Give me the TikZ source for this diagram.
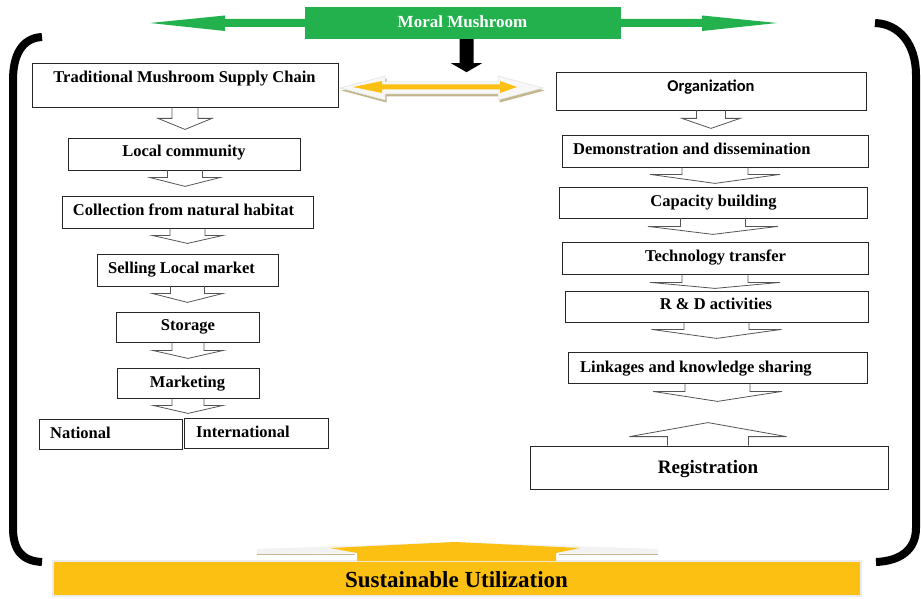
\documentclass[tikz,border=0pt]{standalone}
\usepackage{fontspec}
\setmainfont{Liberation Serif}
\newfontfamily\calib{Carlito}
\usetikzlibrary{calc}
\definecolor{mgreen}{RGB}{34,177,76}
\definecolor{myell}{RGB}{252,192,18}
\definecolor{mtan}{RGB}{196,182,140}
\definecolor{agray}{RGB}{85,85,85}
\tikzset{
  box/.style={draw=black!85, line width=0.8pt, inner sep=0pt},
  txt/.style={font=\fontsize{16.5}{18}\selectfont\bfseries, inner sep=0pt, anchor=base},
  txtl/.style={txt, anchor=base west},
  blk/.style={draw=agray, line width=0.8pt, line join=miter},
  bracket/.style={line width=8pt, black},
}
% #1 node, #2 dx, #3 shaft half, #4 shaft length, #5 head half, #6 head length
\newcommand\blockdn[6]{\draw[blk] ($(#1.south)+({#2-#3},0)$) -- ++(0,#4) -- ++({#3-#5},0) -- ++(#5,#6) -- ++(#5,-#6) -- ++({#3-#5},0) -- ++(0,-#4);}
\newcommand\blockup[6]{\draw[blk] ($(#1.north)+({#2-#3},0)$) -- ++(0,-#4) -- ++({#3-#5},0) -- ++(#5,-#6) -- ++(#5,#6) -- ++({#3-#5},0) -- ++(0,#4);}
\begin{document}
\begin{tikzpicture}[x=1pt,y=-1pt]
\useasboundingbox (0,0) rectangle (921,599);
\fill[white] (0,0) rectangle (921,599);

% brackets
\draw[bracket] (42,37) .. controls (22,38) and (13,55) .. (13,80) -- (13,528) .. controls (13,550) and (22,561) .. (42,562);
\draw[bracket] (875,23) .. controls (900,24) and (916,45) .. (916,75) -- (916,528) .. controls (916,550) and (900,561) .. (876,562);

% top green
\node[fill=mgreen, minimum width=316pt, minimum height=32pt, inner sep=0pt] (moral) at (463,23) {};
\node[txt, text=white, font=\fontsize{17}{19}\selectfont\bfseries] (moralt) at (462.5,27.5) {Moral Mushroom};
\fill[mgreen] ($(moral.west)+(0,-4)$) -- (225,19) -- (225,15.5) -- (150,23) -- (225,31) -- (225,27) -- ($(moral.west)+(0,4)$) -- cycle;
\fill[mgreen] ($(moral.east)+(0,-4)$) -- (702,19) -- (702,15.5) -- (777,23) -- (702,31) -- (702,27) -- ($(moral.east)+(0,4)$) -- cycle;
\fill[black] ($(moral.south)+(-3.5,0)$) -- ++(0,24) -- ++(-8.5,0) -- ++(15.5,9) -- ++(15.5,-9) -- ++(-8.5,0) -- ++(0,-24) -- cycle;

% yellow double arrow
\fill[mtan] (341.5,90.5) -- (386.5,78.5) -- (386.5,84.5) -- (499.5,84.5) -- (499.5,78.5) -- (544.5,90.5) -- (499.5,102.5) -- (499.5,96.5) -- (386.5,96.5) -- (386.5,102.5) -- cycle;
\filldraw[fill=black!3, draw=black!12, line width=0.5pt] (340,88) -- (385,76) -- (385,82) -- (498,82) -- (498,76) -- (543,88) -- (498,100) -- (498,94) -- (385,94) -- (385,100) -- cycle;
\fill[myell] (353,87) -- (382,81) -- (382,84.5) -- (500,84.5) -- (500,81) -- (517,87) -- (500,93) -- (500,89.5) -- (382,89.5) -- (382,93) -- cycle;

% left column boxes
\node[box, minimum width=306pt, minimum height=44pt] (trad) at (185,85) {};
\node[box, minimum width=232pt, minimum height=32pt] (local) at (184,154) {};
\node[box, minimum width=251pt, minimum height=32pt] (coll) at (187.5,212) {};
\node[box, minimum width=181pt, minimum height=32pt] (sell) at (187.5,270) {};
\node[box, minimum width=143pt, minimum height=30pt] (stor) at (187.5,327) {};
\node[box, minimum width=142pt, minimum height=30pt] (mkt) at (188,383) {};
\node[box, minimum width=143pt, minimum height=30pt] (nat) at (110.5,434) {};
\node[box, minimum width=144pt, minimum height=30pt] (intl) at (256,433) {};

\node[txt] (tradt) at (184.5,83) {Traditional Mushroom Supply Chain};
\node[txt] (localt) at (184,157) {Local community};
\node[txt] (collt) at (183.5,215.5) {Collection from natural habitat};
\node[txt] (sellt) at (181.5,273) {Selling Local market};
\node[txt] (stort) at (188,330) {Storage};
\node[txt] (mktt) at (187.5,387) {Marketing};
\node[txtl] (natt) at (50,438) {National};
\node[txtl] (intlt) at (196,437.5) {International};

% right column boxes
\node[box, minimum width=310pt, minimum height=38pt] (org) at (711,91) {};
\node[box, minimum width=306pt, minimum height=32pt] (demo) at (715,151) {};
\node[box, minimum width=308pt, minimum height=31pt] (cap) at (713,202.5) {};
\node[box, minimum width=306pt, minimum height=32pt] (tech) at (715,258) {};
\node[box, minimum width=303pt, minimum height=31pt] (rd) at (716.5,306.5) {};
\node[box, minimum width=299pt, minimum height=31pt] (link) at (717.5,367.5) {};
\node[box, minimum width=358pt, minimum height=43pt] (reg) at (709,467.5) {};

\node[txt, font=\calib\fontsize{16.5}{18}\selectfont\bfseries] (orgt) at (711,92) {Organization};
\node[txtl] (demot) at (573,155) {Demonstration and dissemination};
\node[txt] (capt) at (713.5,206) {Capacity building};
\node[txt] (techt) at (715.5,261.5) {Technology transfer};
\node[txt] (rdt) at (716,309) {R \& D activities};
\node[txtl] (linkt) at (580,372.5) {Linkages and knowledge sharing};
\node[txt, font=\fontsize{19}{21}\selectfont\bfseries] (regt) at (708,473) {Registration};

% hollow block arrows
\blockdn{trad}{0}{13}{11}{27}{11}
\blockdn{local}{1}{17.5}{7}{35.5}{9}
\blockdn{coll}{0}{17.5}{7}{35.5}{8}
\blockdn{sell}{0}{17}{7}{35.5}{9}
\blockdn{stor}{0.5}{16}{8}{35.5}{8}
\blockdn{mkt}{0}{16}{7}{35}{8}
\blockdn{org}{0}{14.5}{8}{29}{10}
\blockdn{demo}{0}{33}{7}{65}{9}
\blockdn{cap}{0}{32.5}{8}{65}{8}
\blockdn{tech}{0}{33}{8}{65}{6}
\blockdn{rd}{0}{32.5}{7}{65}{9}
\blockdn{link}{0}{32.5}{8}{64.5}{10}
\blockup{reg}{-1}{40.5}{9}{78.5}{14}

% sustainable utilization
\node[fill=myell, draw=black!8, line width=2pt, minimum width=808pt, minimum height=35pt, inner sep=0pt] (sust) at (457,578.5) {};
\fill[black!5] ($(sust.north)+(-100,0)$) -- ++(0,-7) -- (257,554) -- (257,549) -- (455,542) -- (658,549) -- (658,554) -- ($(sust.north)+(99,-7)$) -- ($(sust.north)+(99,0)$) -- cycle;
\draw[mtan, line width=1.8pt] (257,554.5) -- (355,554.5);
\draw[mtan, line width=1.8pt] (559,554.5) -- (658,554.5);
\fill[myell] ($(sust.north)+(-100,1)$) -- ++(0,-8) -- (330,548) -- (455,542) -- (580,548) -- ($(sust.north)+(99,-7)$) -- ($(sust.north)+(99,1)$) -- cycle;
\node[txt, font=\fontsize{23}{25}\selectfont\bfseries] (sustt) at (456.5,587) {Sustainable Utilization};
\end{tikzpicture}
\end{document}
